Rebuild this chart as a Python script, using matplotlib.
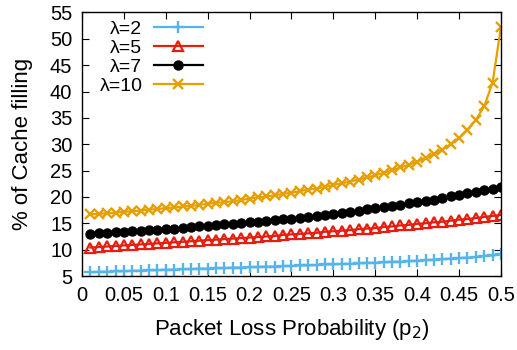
import matplotlib
matplotlib.use('Agg')
import matplotlib.pyplot as plt

plt.rcParams['font.family'] = ['Liberation Sans', 'DejaVu Sans']

# Packet loss probability p2
p2 = [0.01, 0.02, 0.03, 0.04, 0.05, 0.06, 0.07, 0.08, 0.09, 0.10,
      0.11, 0.12, 0.13, 0.14, 0.15, 0.16, 0.17, 0.18, 0.19, 0.20,
      0.21, 0.22, 0.23, 0.24, 0.25, 0.26, 0.27, 0.28, 0.29, 0.30,
      0.31, 0.32, 0.33, 0.34, 0.35, 0.36, 0.37, 0.38, 0.39, 0.40,
      0.41, 0.42, 0.43, 0.44, 0.45, 0.46, 0.47, 0.48, 0.49, 0.50]

# % of cache filling for each lambda
fill_l2 = [5.7, 5.8, 5.8, 5.9, 5.9, 6.0, 6.0, 6.1, 6.1, 6.2,
           6.2, 6.3, 6.3, 6.4, 6.4, 6.5, 6.5, 6.6, 6.6, 6.7,
           6.7, 6.8, 6.8, 6.9, 6.9, 7.0, 7.0, 7.1, 7.2, 7.2,
           7.3, 7.3, 7.4, 7.5, 7.5, 7.6, 7.7, 7.7, 7.8, 7.9,
           8.0, 8.1, 8.2, 8.3, 8.4, 8.5, 8.6, 8.8, 8.9, 9.1]
fill_l5 = [10.4, 10.5, 10.6, 10.7, 10.8, 10.9, 11.0, 11.1, 11.2, 11.3,
           11.4, 11.5, 11.6, 11.7, 11.8, 11.9, 12.0, 12.1, 12.2, 12.3,
           12.4, 12.5, 12.6, 12.8, 12.9, 13.0, 13.1, 13.2, 13.4, 13.5,
           13.6, 13.7, 13.9, 14.0, 14.1, 14.3, 14.4, 14.6, 14.7, 14.9,
           15.0, 15.2, 15.3, 15.5, 15.7, 15.8, 16.0, 16.2, 16.4, 16.6]
fill_l7 = [13.0, 13.1, 13.2, 13.3, 13.4, 13.5, 13.6, 13.7, 13.8, 13.9,
           14.0, 14.1, 14.3, 14.4, 14.5, 14.6, 14.8, 14.9, 15.0, 15.2,
           15.3, 15.5, 15.6, 15.8, 15.9, 16.1, 16.2, 16.4, 16.6, 16.8,
           17.0, 17.2, 17.4, 17.7, 17.9, 18.1, 18.3, 18.5, 18.8, 19.0,
           19.2, 19.5, 19.8, 20.1, 20.4, 20.7, 21.0, 21.3, 21.6, 21.9]
fill_l10 = [16.7, 16.8, 16.9, 17.0, 17.2, 17.3, 17.4, 17.6, 17.7, 17.9,
            18.0, 18.2, 18.3, 18.5, 18.7, 18.9, 19.0, 19.2, 19.4, 19.7,
            19.9, 20.1, 20.3, 20.6, 20.8, 21.1, 21.4, 21.6, 21.9, 22.3,
            22.6, 22.9, 23.3, 23.7, 24.1, 24.6, 25.1, 25.6, 26.1, 26.7,
            27.4, 28.1, 29.0, 30.0, 31.2, 32.7, 34.6, 37.2, 41.7, 52.3]

x_ticks = [0, 0.05, 0.1, 0.15, 0.2, 0.25, 0.3, 0.35, 0.4, 0.45, 0.5]
x_tick_labels = ['0', '0.05', '0.1', '0.15', '0.2', '0.25', '0.3', '0.35', '0.4', '0.45', '0.5']
y_ticks = [5, 10, 15, 20, 25, 30, 35, 40, 45, 50, 55]

fig = plt.figure(figsize=(5.17, 3.5), dpi=100)
ax = fig.add_axes([0.1586, 0.2114, 0.9690 - 0.1586, 0.9643 - 0.2114])

ax.plot(p2, fill_l2, color='#56B4E9', lw=1.6, marker='+', ms=8.5, mew=1.7, label='λ=2')
ax.plot(p2, fill_l5, color='#E51E10', lw=1.6, marker='^', ms=7, mew=1.6,
        mfc='none', label='λ=5')
ax.plot(p2, fill_l7, color='black', lw=1.6, marker='o', ms=6.5, label='λ=7')
ax.plot(p2, fill_l10, color='#E69F00', lw=1.6, marker='x', ms=7.5, mew=1.7, label='λ=10')

ax.set_xlim(0, 0.5)
ax.set_ylim(5, 55)
ax.set_xticks(x_ticks)
ax.set_xticklabels(x_tick_labels)
ax.set_yticks(y_ticks)
ax.tick_params(direction='in', length=5, width=0.8, top=True, right=True,
               labelsize=14.5, pad=7)
for s in ax.spines.values():
    s.set_linewidth(1.0)

ax.set_xlabel('Packet Loss Probability (p$_2$)', fontsize=16, labelpad=9)
ax.set_ylabel('% of Cache filling', fontsize=16, labelpad=12)

ax.legend(loc='upper left', bbox_to_anchor=(0.03, 0.99), frameon=False,
          markerfirst=False, fontsize=14, handlelength=2.5,
          handletextpad=0.6, labelspacing=0.07, borderaxespad=0.1,
          borderpad=0.15)

fig.savefig('out.png', dpi=100)
plt.close(fig)
